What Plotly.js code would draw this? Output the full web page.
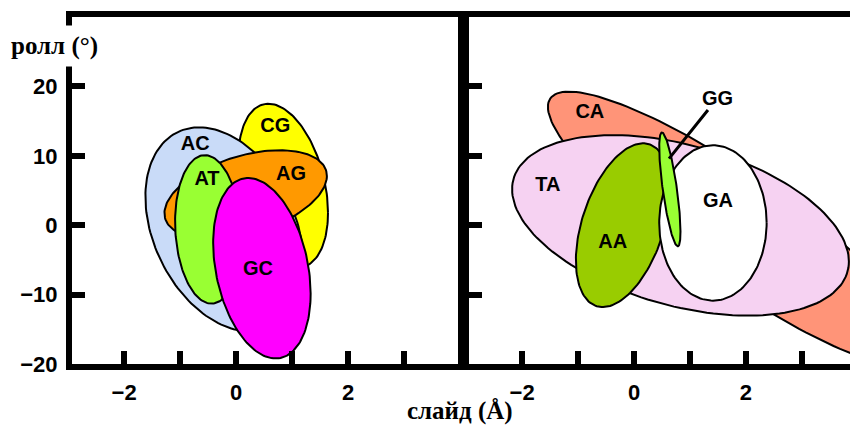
<!DOCTYPE html>
<html><head><meta charset="utf-8">
<script src="https://cdn.plot.ly/plotly-3.0.1.min.js"></script>
<style>html,body{margin:0;padding:0;background:#fff}</style>
</head><body><div id="chart" style="width:850px;height:425px"></div>
<script>
// ---- Left panel regions (drawn bottom to top) ----
const leftNames = ['CG', 'AC', 'AG', 'AT', 'GC'];
const leftCx   = [0.84, -0.21, 0.17, -0.50, 0.46];   // slide centre (Å)
const leftCy   = [5.7, -0.6, 4.4, -0.6, -6.2];       // roll centre (°)
const leftSx   = [0.80, 1.41, 1.45, 0.59, 0.87];     // slide half-extent (Å)
const leftSy   = [11.8, 14.7, 6.4, 10.7, 13.0];      // roll half-extent (°)
const leftRho  = [-0.33, -0.32, 0.42, -0.10, -0.28]; // slide/roll correlation
const leftLabelX = [0.70, -0.73, 0.98, -0.52, 0.39];
const leftLabelY = [14.2, 11.6, 7.2, 6.5, -6.5];

// ---- Right panel regions (drawn bottom to top) ----
const rightNames = ['CA', 'TA', 'AA', 'GA', 'GG'];
const rightCx   = [1.89, 0.83, -0.20, 1.41, 0.64];
const rightCy   = [-0.75, -0.03, 0.0, 0.33, 5.16];
const rightSx   = [3.43, 3.01, 0.84, 0.96, 0.19];
const rightSy   = [20.0, 13.0, 11.8, 11.2, 8.2];
const rightRho  = [-0.89, -0.40, 0.43, 0.0, -0.74];
const rightLabelX = [-0.79, -1.54, -0.38, 1.50];
const rightLabelY = [16.2, 5.6, -2.6, 3.3];
const ggLabel = {x: 1.50, y: 18.4, px: 0.625, py: 9.6};

// ---- Axes ----
const xTickVals = [-2, -1, 0, 1, 2, 3];
const xTickText = ['\u22122', '', '0', '', '2', ''];
const yLabelVals = [-20, -10, 0, 10, 20];
const yLabelText = ['\u221220', '\u221210', '0', '10', '20'];
const yTickVals = [-10, 0, 10, 20];
const xTitle = 'слайд (Å)';
const yTitle = 'ролл (°)';

// ---- Styles ----
const leftColors  = ['#ffff00', '#c9dbf8', '#ff9900', '#99ff33', '#ff00ff'];
const rightColors = ['#ff9478', '#f6d2f2', '#99cc00', '#ffffff', '#99ff33'];

function ellipse(cx, cy, sx, sy, rho) {
  const xs = [], ys = [], n = 160, s = Math.sqrt(1 - rho * rho);
  for (let i = 0; i <= n; i++) {
    const t = 2 * Math.PI * i / n;
    xs.push(cx + sx * Math.cos(t));
    ys.push(cy + sy * (rho * Math.cos(t) + s * Math.sin(t)));
  }
  return {xs, ys};
}

const traces = [];
function addRegions(cx, cy, sx, sy, rho, colors, xa, ya) {
  for (let i = 0; i < cx.length; i++) {
    const e = ellipse(cx[i], cy[i], sx[i], sy[i], rho[i]);
    traces.push({type: 'scatter', mode: 'lines', x: e.xs, y: e.ys, fill: 'toself',
      fillcolor: colors[i], line: {color: 'black', width: 2}, xaxis: xa, yaxis: ya,
      hoverinfo: 'skip'});
  }
}
addRegions(leftCx, leftCy, leftSx, leftSy, leftRho, leftColors, 'x', 'y');
addRegions(rightCx, rightCy, rightSx, rightSy, rightRho, rightColors, 'x2', 'y2');

const labelFont = {family: 'Liberation Sans, Arial, sans-serif', size: 20, weight: 'bold', color: 'black'};
traces.push({type: 'scatter', mode: 'text', x: leftLabelX, y: leftLabelY, text: leftNames,
  textfont: labelFont, xaxis: 'x', yaxis: 'y', hoverinfo: 'skip'});
traces.push({type: 'scatter', mode: 'text', x: rightLabelX, y: rightLabelY, text: rightNames.slice(0, 4),
  textfont: labelFont, xaxis: 'x2', yaxis: 'y2', hoverinfo: 'skip'});

const tickFont = {family: 'Liberation Sans, Arial, sans-serif', size: 22, weight: 'bold', color: 'black'};
const titleFont = {family: 'Liberation Serif, Times New Roman, serif', size: 25, weight: 'bold', color: 'black'};

function xAxis(domain, range, anchor) {
  return {domain, range, anchor, showline: true, linewidth: 6, linecolor: 'black', mirror: true,
    showgrid: false, zeroline: false, tickmode: 'array', tickvals: xTickVals, ticktext: xTickText,
    ticks: 'inside', ticklen: 13, tickwidth: 6, tickcolor: 'black', tickfont: tickFont,
    ticklabelstandoff: 4};
}
function yAxis(anchor, labels, mirror) {
  return {domain: [0, 1], range: [-20, 30], anchor, showline: true, linewidth: 6, linecolor: 'black',
    mirror, showgrid: false, zeroline: false, tickmode: 'array', tickvals: yLabelVals, ticktext: yLabelText,
    showticklabels: labels, ticks: '', tickfont: tickFont, ticklabelstandoff: 4,
    minor: {tickmode: 'array', tickvals: yTickVals, ticks: 'inside', ticklen: 13, tickwidth: 6,
      tickcolor: 'black', showgrid: false}};
}

const layout = {
  width: 850, height: 425,
  margin: {l: 72, r: 0, t: 17, b: 61},
  paper_bgcolor: 'white', plot_bgcolor: 'white', showlegend: false,
  xaxis: xAxis([0, 0.4961], [-2.93, 3.96], 'y'),
  yaxis: yAxis('x', true, true),
  xaxis2: xAxis([0.5103, 1], [-2.95, 3.86], 'y2'),
  yaxis2: yAxis('x2', false, false),
  annotations: [
    {xref: 'x2', yref: 'y2', x: ggLabel.px, y: ggLabel.py, axref: 'x2', ayref: 'y2',
     ax: ggLabel.x, ay: ggLabel.y, text: rightNames[4], showarrow: true, arrowhead: 0,
     arrowwidth: 3, arrowcolor: 'black', standoff: 0, font: labelFont},
    {xref: 'paper', yref: 'paper', x: -0.088, y: 0.915, xanchor: 'left', yanchor: 'middle',
     text: yTitle, showarrow: false, font: titleFont, bgcolor: 'white', borderpad: 6},
    {xref: 'paper', yref: 'paper', x: 0.4987, y: -0.136, xanchor: 'center', yanchor: 'middle',
     text: xTitle, showarrow: false, font: titleFont}
  ]
};

Plotly.newPlot('chart', traces, layout, {staticPlot: true});
</script></body></html>
